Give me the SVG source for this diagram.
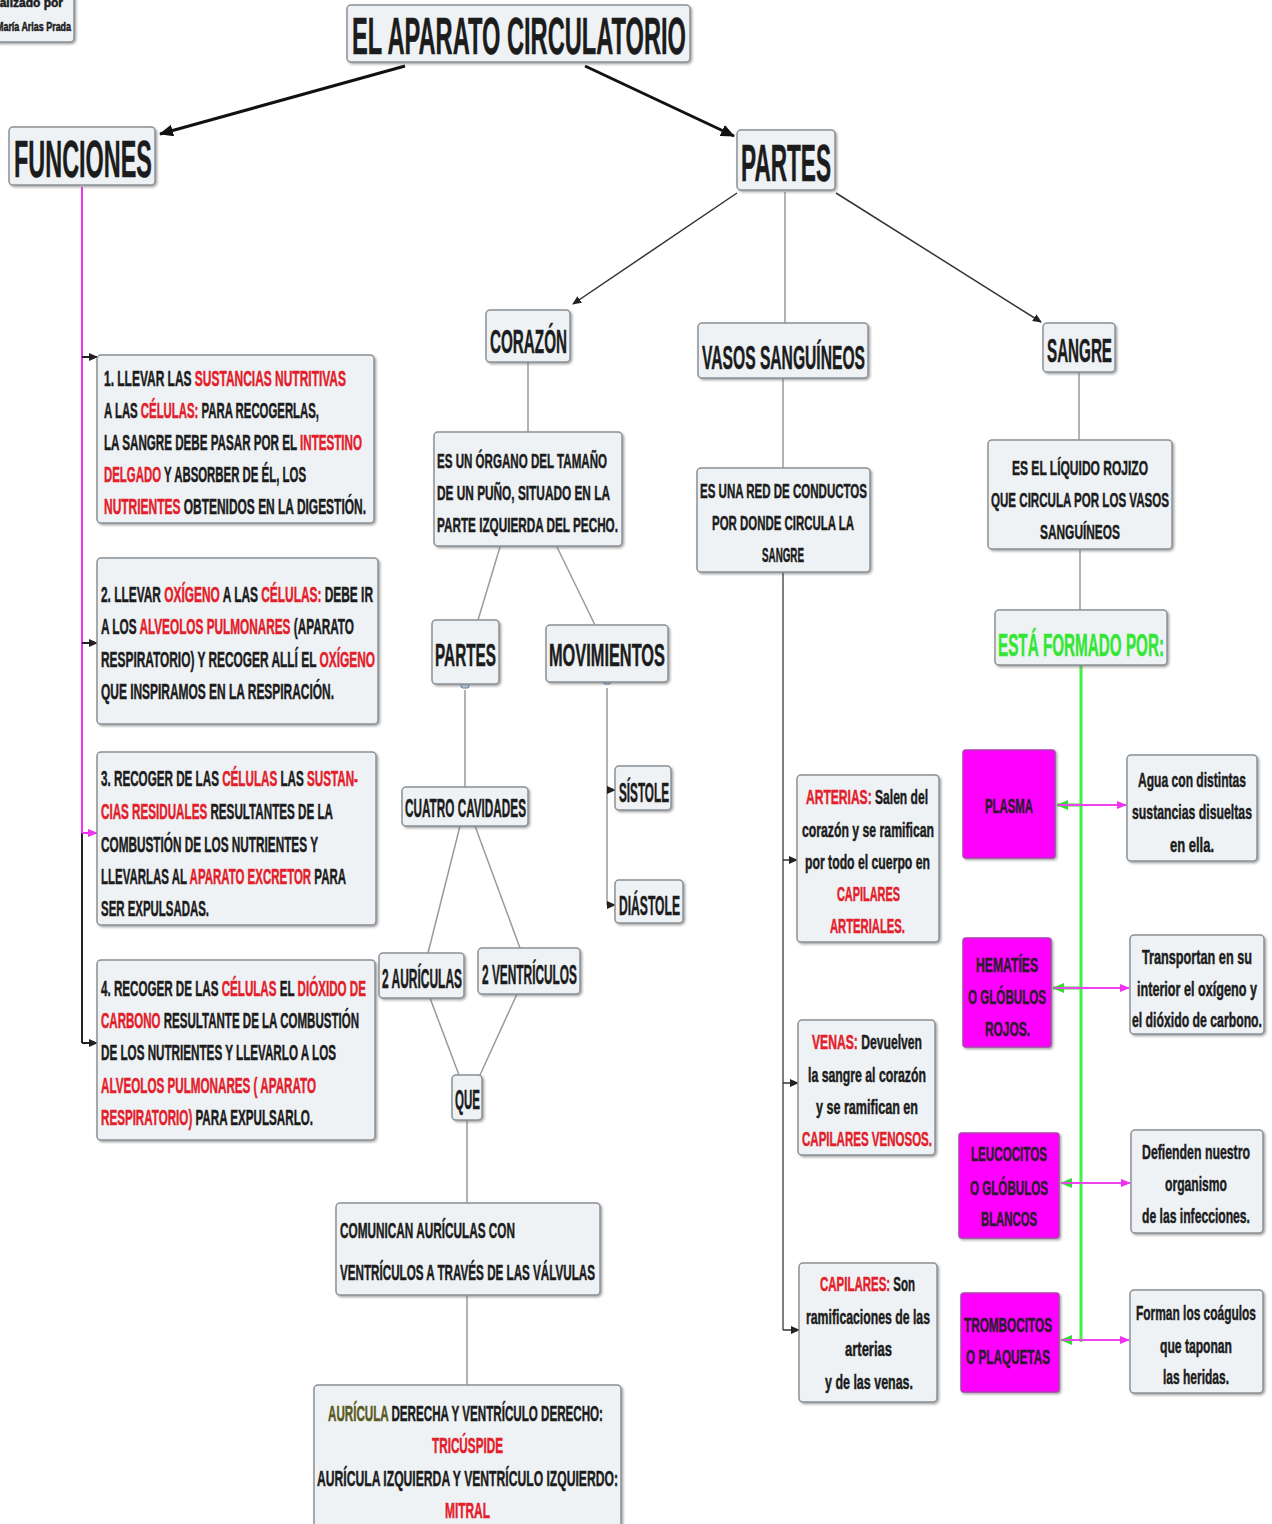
<svg xmlns="http://www.w3.org/2000/svg" width="1272" height="1524" viewBox="0 0 1272 1524">
<style>
.box{fill:#eef2f5;stroke:#8c9196;stroke-width:1.5;filter:url(#sh)}
.mag{fill:#ff00ff;stroke:#b23cb2;stroke-width:1.5;filter:url(#sh)}
.t{font-family:"Liberation Sans Narrow","Liberation Sans",Arial,sans-serif;font-weight:bold;fill:#1c1c1c;stroke:#1c1c1c;stroke-width:0.5}
.s20{font-size:21px}
.f22{font-size:22px}
.r{fill:#e3202a;stroke:#e3202a}
.ol{fill:#5a5a22;stroke:#5a5a22}
.gr{fill:#33e633;stroke:#33e633}
.mt{fill:#2e1a30;stroke:#2e1a30}
.ln{stroke:#9a9a9a;stroke-width:1.5;fill:none}
.dk{stroke:#333;stroke-width:1.5;fill:none}
</style>
<defs>
<filter id="sh" x="-10%" y="-10%" width="130%" height="130%">
<feDropShadow dx="1.5" dy="1.5" stdDeviation="1" flood-color="#666" flood-opacity="0.6"/>
</filter>
<marker id="ab" markerWidth="14" markerHeight="12" refX="13" refY="6" orient="auto" markerUnits="userSpaceOnUse">
<path d="M0,0 L14,6 L0,12 z" fill="#111"/>
</marker>
<marker id="as" markerWidth="9" markerHeight="8" refX="8" refY="4" orient="auto" markerUnits="userSpaceOnUse">
<path d="M0,0 L9,4 L0,8 z" fill="#222"/>
</marker>
<marker id="am" markerWidth="10" markerHeight="8" refX="9" refY="4" orient="auto" markerUnits="userSpaceOnUse">
<path d="M0,0 L10,4 L0,8 z" fill="#ee33ee"/>
</marker>
<marker id="ag" markerWidth="12" markerHeight="10" refX="11" refY="5" orient="auto" markerUnits="userSpaceOnUse">
<path d="M0,0 L12,5 L0,10 z" fill="#33dd33"/>
</marker>
</defs>
<rect width="1272" height="1524" fill="#ffffff"/>

<g id="connectors">
<line x1="405" y1="66" x2="160" y2="134" stroke="#111" stroke-width="3" marker-end="url(#ab)"/>
<line x1="585" y1="66" x2="734" y2="136" stroke="#111" stroke-width="3" marker-end="url(#ab)"/>
<line x1="737" y1="193" x2="573" y2="304" class="dk" marker-end="url(#as)"/>
<line x1="785" y1="192" x2="785" y2="323" class="ln"/>
<line x1="836" y1="193" x2="1041" y2="322" class="dk" marker-end="url(#as)"/>
<line x1="82" y1="187" x2="82" y2="1043" stroke="#222" stroke-width="2"/>
<line x1="82" y1="187" x2="82" y2="833" stroke="#ee33ee" stroke-width="2"/>
<line x1="82" y1="357" x2="97" y2="357" stroke="#222" stroke-width="2" marker-end="url(#as)"/>
<line x1="82" y1="643" x2="97" y2="643" stroke="#222" stroke-width="2" marker-end="url(#as)"/>
<line x1="82" y1="833" x2="97" y2="833" stroke="#ee33ee" stroke-width="2" marker-end="url(#am)"/>
<line x1="82" y1="1043" x2="97" y2="1043" stroke="#222" stroke-width="2" marker-end="url(#as)"/>
<line x1="528" y1="362" x2="528" y2="432" class="ln"/>
<line x1="500" y1="547" x2="478" y2="620" class="ln"/>
<line x1="557" y1="547" x2="595" y2="625" class="ln"/>
<line x1="465" y1="690" x2="465" y2="787" class="ln"/>
<line x1="460" y1="826" x2="428" y2="953" class="ln"/>
<line x1="475" y1="826" x2="520" y2="948" class="ln"/>
<line x1="430" y1="998" x2="459" y2="1075" class="ln"/>
<line x1="517" y1="994" x2="480" y2="1075" class="ln"/>
<line x1="467" y1="1120" x2="467" y2="1203" class="ln"/>
<line x1="467" y1="1295" x2="467" y2="1385" class="ln"/>
<line x1="607" y1="688" x2="607" y2="905" class="ln"/>
<line x1="607" y1="790" x2="615" y2="790" class="dk" marker-end="url(#as)"/>
<line x1="607" y1="905" x2="615" y2="905" class="dk" marker-end="url(#as)"/>
<rect x="461" y="679" width="8" height="9" rx="2" fill="#cfe0f0" stroke="#4a78a8" stroke-width="1"/>
<rect x="603" y="675" width="8" height="9" rx="2" fill="#cfe0f0" stroke="#4a78a8" stroke-width="1"/>
<line x1="783" y1="378" x2="783" y2="468" class="ln"/>
<line x1="783" y1="572" x2="783" y2="1330" stroke="#555" stroke-width="1.5"/>
<line x1="783" y1="860" x2="797" y2="860" class="dk" marker-end="url(#as)"/>
<line x1="783" y1="1083" x2="798" y2="1083" class="dk" marker-end="url(#as)"/>
<line x1="783" y1="1330" x2="799" y2="1330" class="dk" marker-end="url(#as)"/>
<line x1="1079" y1="372" x2="1079" y2="440" class="ln"/>
<line x1="1080" y1="549" x2="1080" y2="610" class="ln"/>
<line x1="1081" y1="665" x2="1081" y2="1342" stroke="#44ee44" stroke-width="3"/>
<line x1="1081" y1="805" x2="1057" y2="805" stroke="#33dd33" stroke-width="3" marker-end="url(#ag)"/>
<line x1="1081" y1="988" x2="1053" y2="988" stroke="#33dd33" stroke-width="3" marker-end="url(#ag)"/>
<line x1="1081" y1="1183" x2="1061" y2="1183" stroke="#33dd33" stroke-width="1.5" marker-end="url(#ag)"/>
<line x1="1081" y1="1340" x2="1061" y2="1340" stroke="#33dd33" stroke-width="1.5" marker-end="url(#ag)"/>
<line x1="1058" y1="805" x2="1126" y2="805" stroke="#ee44ee" stroke-width="2" marker-end="url(#am)"/>
<line x1="1054" y1="988" x2="1129" y2="988" stroke="#ee44ee" stroke-width="2" marker-end="url(#am)"/>
<line x1="1062" y1="1183" x2="1130" y2="1183" stroke="#ee44ee" stroke-width="2" marker-end="url(#am)"/>
<line x1="1062" y1="1340" x2="1129" y2="1340" stroke="#ee44ee" stroke-width="2" marker-end="url(#am)"/>
</g>

<g id="autor">
<rect x="-6" y="-6" width="80" height="48" rx="4" class="box"/>
<text class="t" font-size="12" x="63" y="7" text-anchor="end">realizado por</text>
<text class="t" font-size="12" x="-4" y="31" textLength="75" lengthAdjust="spacingAndGlyphs">María Arias Prada</text>
</g>

<g id="titulo">
<rect x="347" y="5" width="343" height="57" rx="4" class="box"/>
<text class="t" font-size="51" x="352" y="54" textLength="334" lengthAdjust="spacingAndGlyphs">EL APARATO CIRCULATORIO</text>
</g>

<g id="funciones">
<rect x="9" y="127" width="146" height="58" rx="4" class="box"/>
<text class="t" font-size="51" x="14" y="177" textLength="138" lengthAdjust="spacingAndGlyphs">FUNCIONES</text>
</g>

<g id="partes">
<rect x="737" y="130" width="98" height="60" rx="4" class="box"/>
<text class="t" font-size="51" x="741" y="181" textLength="90" lengthAdjust="spacingAndGlyphs">PARTES</text>
</g>

<g id="funcion1">
<rect x="97" y="355" width="277" height="168" rx="4" class="box"/>
<text class="t f22" x="104" y="386" textLength="242" lengthAdjust="spacingAndGlyphs">1. LLEVAR LAS <tspan class="r">SUSTANCIAS NUTRITIVAS</tspan></text>
<text class="t f22" x="104" y="418" textLength="215" lengthAdjust="spacingAndGlyphs">A LAS <tspan class="r">CÉLULAS:</tspan> PARA RECOGERLAS,</text>
<text class="t f22" x="104" y="450" textLength="258" lengthAdjust="spacingAndGlyphs">LA SANGRE DEBE PASAR POR EL <tspan class="r">INTESTINO</tspan></text>
<text class="t f22" x="104" y="482" textLength="202" lengthAdjust="spacingAndGlyphs"><tspan class="r">DELGADO</tspan> Y ABSORBER DE ÉL, LOS</text>
<text class="t f22" x="104" y="514" textLength="262" lengthAdjust="spacingAndGlyphs"><tspan class="r">NUTRIENTES</tspan> OBTENIDOS EN LA DIGESTIÓN.</text>
</g>

<g id="funcion2">
<rect x="97" y="558" width="281" height="166" rx="4" class="box"/>
<text class="t f22" x="101" y="602" textLength="272" lengthAdjust="spacingAndGlyphs">2. LLEVAR <tspan class="r">OXÍGENO</tspan> A LAS <tspan class="r">CÉLULAS:</tspan> DEBE IR</text>
<text class="t f22" x="101" y="634" textLength="253" lengthAdjust="spacingAndGlyphs">A LOS <tspan class="r">ALVEOLOS PULMONARES</tspan> (APARATO</text>
<text class="t f22" x="101" y="667" textLength="274" lengthAdjust="spacingAndGlyphs">RESPIRATORIO) Y RECOGER ALLÍ EL <tspan class="r">OXÍGENO</tspan></text>
<text class="t f22" x="101" y="699" textLength="233" lengthAdjust="spacingAndGlyphs">QUE INSPIRAMOS EN LA RESPIRACIÓN.</text>
</g>

<g id="funcion3">
<rect x="97" y="752" width="279" height="173" rx="4" class="box"/>
<text class="t f22" x="101" y="786" textLength="257" lengthAdjust="spacingAndGlyphs">3. RECOGER  DE LAS <tspan class="r">CÉLULAS</tspan> LAS <tspan class="r">SUSTAN-</tspan></text>
<text class="t f22" x="101" y="819" textLength="232" lengthAdjust="spacingAndGlyphs"><tspan class="r">CIAS RESIDUALES</tspan> RESULTANTES DE LA</text>
<text class="t f22" x="101" y="852" textLength="217" lengthAdjust="spacingAndGlyphs">COMBUSTIÓN DE LOS NUTRIENTES Y</text>
<text class="t f22" x="101" y="884" textLength="245" lengthAdjust="spacingAndGlyphs">LLEVARLAS AL <tspan class="r">APARATO EXCRETOR</tspan> PARA</text>
<text class="t f22" x="101" y="916" textLength="108" lengthAdjust="spacingAndGlyphs">SER EXPULSADAS.</text>
</g>

<g id="funcion4">
<rect x="97" y="960" width="278" height="180" rx="4" class="box"/>
<text class="t f22" x="101" y="996" textLength="265" lengthAdjust="spacingAndGlyphs">4. RECOGER DE LAS <tspan class="r">CÉLULAS</tspan> EL <tspan class="r">DIÓXIDO DE</tspan></text>
<text class="t f22" x="101" y="1028" textLength="258" lengthAdjust="spacingAndGlyphs"><tspan class="r">CARBONO</tspan> RESULTANTE DE LA COMBUSTIÓN</text>
<text class="t f22" x="101" y="1060" textLength="235" lengthAdjust="spacingAndGlyphs">DE LOS NUTRIENTES Y LLEVARLO A LOS</text>
<text class="t f22 r" x="101" y="1093" textLength="215" lengthAdjust="spacingAndGlyphs">ALVEOLOS PULMONARES ( APARATO</text>
<text class="t f22" x="101" y="1125" textLength="212" lengthAdjust="spacingAndGlyphs"><tspan class="r">RESPIRATORIO)</tspan> PARA EXPULSARLO.</text>
</g>

<g id="corazon">
<rect x="486" y="310" width="84" height="52" rx="4" class="box"/>
<text class="t" font-size="34" x="490" y="353" textLength="77" lengthAdjust="spacingAndGlyphs">CORAZÓN</text>
</g>
<g id="organo">
<rect x="434" y="432" width="188" height="114" rx="4" class="box"/>
<text class="t s20" x="437" y="468" textLength="170" lengthAdjust="spacingAndGlyphs">ES UN ÓRGANO DEL TAMAÑO</text>
<text class="t s20" x="437" y="500" textLength="173" lengthAdjust="spacingAndGlyphs">DE UN PUÑO, SITUADO EN LA</text>
<text class="t s20" x="437" y="532" textLength="181" lengthAdjust="spacingAndGlyphs">PARTE IZQUIERDA DEL PECHO.</text>
</g>
<g id="partes-corazon">
<rect x="432" y="620" width="67" height="64" rx="4" class="box"/>
<text class="t" font-size="32" x="435" y="666" textLength="61" lengthAdjust="spacingAndGlyphs">PARTES</text>
</g>
<g id="movimientos">
<rect x="546" y="625" width="122" height="57" rx="4" class="box"/>
<text class="t" font-size="32" x="549" y="666" textLength="116" lengthAdjust="spacingAndGlyphs">MOVIMIENTOS</text>
</g>
<g id="cavidades">
<rect x="402" y="787" width="126" height="39" rx="4" class="box"/>
<text class="t" font-size="25" x="405" y="817" textLength="121" lengthAdjust="spacingAndGlyphs">CUATRO CAVIDADES</text>
</g>
<g id="sistole">
<rect x="615" y="766" width="56" height="44" rx="4" class="box"/>
<text class="t" font-size="27" x="619" y="802" textLength="50" lengthAdjust="spacingAndGlyphs">SÍSTOLE</text>
</g>
<g id="diastole">
<rect x="615" y="880" width="68" height="43" rx="4" class="box"/>
<text class="t" font-size="27" x="619" y="915" textLength="61" lengthAdjust="spacingAndGlyphs">DIÁSTOLE</text>
</g>
<g id="auriculas">
<rect x="379" y="953" width="85" height="45" rx="4" class="box"/>
<text class="t" font-size="27" x="382" y="988" textLength="80" lengthAdjust="spacingAndGlyphs">2 AURÍCULAS</text>
</g>
<g id="ventriculos">
<rect x="478" y="948" width="102" height="46" rx="4" class="box"/>
<text class="t" font-size="27" x="482" y="984" textLength="95" lengthAdjust="spacingAndGlyphs">2 VENTRÍCULOS</text>
</g>
<g id="que">
<rect x="452" y="1075" width="30" height="45" rx="4" class="box"/>
<text class="t" font-size="27" x="455" y="1109" textLength="25" lengthAdjust="spacingAndGlyphs">QUE</text>
</g>
<g id="comunican">
<rect x="336" y="1203" width="264" height="92" rx="4" class="box"/>
<text class="t f22" x="340" y="1238" textLength="175" lengthAdjust="spacingAndGlyphs">COMUNICAN AURÍCULAS CON</text>
<text class="t f22" x="340" y="1280" textLength="255" lengthAdjust="spacingAndGlyphs">VENTRÍCULOS A TRAVÉS DE LAS VÁLVULAS</text>
</g>
<g id="valvulas">
<rect x="314" y="1385" width="307" height="150" rx="4" class="box"/>
<text class="t f22" x="328" y="1421" textLength="275" lengthAdjust="spacingAndGlyphs"><tspan class="ol">AURÍCULA</tspan> DERECHA Y VENTRÍCULO DERECHO:</text>
<text class="t f22 r" x="432" y="1453" textLength="71" lengthAdjust="spacingAndGlyphs">TRICÚSPIDE</text>
<text class="t f22" x="317" y="1486" textLength="301" lengthAdjust="spacingAndGlyphs">AURÍCULA IZQUIERDA Y VENTRÍCULO IZQUIERDO:</text>
<text class="t f22 r" x="445" y="1518" textLength="45" lengthAdjust="spacingAndGlyphs">MITRAL</text>
</g>

<g id="vasos">
<rect x="698" y="323" width="170" height="55" rx="4" class="box"/>
<text class="t" font-size="34" x="702" y="369" textLength="163" lengthAdjust="spacingAndGlyphs">VASOS SANGUÍNEOS</text>
</g>
<g id="red">
<rect x="697" y="468" width="173" height="104" rx="4" class="box"/>
<text class="t s20" x="700" y="498" textLength="167" lengthAdjust="spacingAndGlyphs">ES UNA RED DE CONDUCTOS</text>
<text class="t s20" x="712" y="530" textLength="142" lengthAdjust="spacingAndGlyphs">POR DONDE CIRCULA LA</text>
<text class="t s20" x="762" y="562" textLength="42" lengthAdjust="spacingAndGlyphs">SANGRE</text>
</g>
<g id="arterias">
<rect x="797" y="775" width="142" height="167" rx="4" class="box"/>
<text class="t s20" x="806" y="804" textLength="122" lengthAdjust="spacingAndGlyphs"><tspan class="r">ARTERIAS:</tspan> Salen del</text>
<text class="t s20" x="802" y="837" textLength="132" lengthAdjust="spacingAndGlyphs">corazón y se ramifican</text>
<text class="t s20" x="805" y="869" textLength="125" lengthAdjust="spacingAndGlyphs">por todo el cuerpo en</text>
<text class="t s20 r" x="837" y="901" textLength="63" lengthAdjust="spacingAndGlyphs">CAPILARES</text>
<text class="t s20 r" x="830" y="933" textLength="75" lengthAdjust="spacingAndGlyphs">ARTERIALES.</text>
</g>
<g id="venas">
<rect x="798" y="1020" width="137" height="135" rx="4" class="box"/>
<text class="t s20" x="812" y="1049" textLength="110" lengthAdjust="spacingAndGlyphs"><tspan class="r">VENAS:</tspan> Devuelven</text>
<text class="t s20" x="808" y="1082" textLength="118" lengthAdjust="spacingAndGlyphs">la sangre al corazón</text>
<text class="t s20" x="816" y="1114" textLength="102" lengthAdjust="spacingAndGlyphs">y se ramifican en</text>
<text class="t s20 r" x="802" y="1146" textLength="130" lengthAdjust="spacingAndGlyphs">CAPILARES VENOSOS.</text>
</g>
<g id="capilares">
<rect x="799" y="1263" width="138" height="139" rx="4" class="box"/>
<text class="t s20" x="820" y="1291" textLength="95" lengthAdjust="spacingAndGlyphs"><tspan class="r">CAPILARES:</tspan> Son</text>
<text class="t s20" x="806" y="1324" textLength="124" lengthAdjust="spacingAndGlyphs">ramificaciones de las</text>
<text class="t s20" x="845" y="1356" textLength="47" lengthAdjust="spacingAndGlyphs">arterias</text>
<text class="t s20" x="825" y="1389" textLength="88" lengthAdjust="spacingAndGlyphs">y de las venas.</text>
</g>

<g id="sangre">
<rect x="1043" y="323" width="72" height="49" rx="4" class="box"/>
<text class="t" font-size="34" x="1047" y="362" textLength="65" lengthAdjust="spacingAndGlyphs">SANGRE</text>
</g>
<g id="liquido">
<rect x="988" y="440" width="184" height="109" rx="4" class="box"/>
<text class="t s20" x="1012" y="475" textLength="136" lengthAdjust="spacingAndGlyphs">ES EL LÍQUIDO ROJIZO</text>
<text class="t s20" x="991" y="507" textLength="178" lengthAdjust="spacingAndGlyphs">QUE CIRCULA POR LOS VASOS</text>
<text class="t s20" x="1040" y="539" textLength="80" lengthAdjust="spacingAndGlyphs">SANGUÍNEOS</text>
</g>
<g id="formado">
<rect x="995" y="610" width="172" height="55" rx="4" class="box"/>
<text class="t gr" font-size="32" x="998" y="656" textLength="166" lengthAdjust="spacingAndGlyphs">ESTÁ FORMADO POR:</text>
</g>
<g id="plasma">
<rect x="963" y="750" width="92" height="108" rx="3" class="mag"/>
<text class="t s20 mt" x="985" y="813" textLength="48" lengthAdjust="spacingAndGlyphs">PLASMA</text>
</g>
<g id="hematies">
<rect x="963" y="938" width="88" height="109" rx="3" class="mag"/>
<text class="t s20 mt" x="976" y="972" textLength="62" lengthAdjust="spacingAndGlyphs">HEMATÍES</text>
<text class="t s20 mt" x="968" y="1004" textLength="78" lengthAdjust="spacingAndGlyphs">O GLÓBULOS</text>
<text class="t s20 mt" x="985" y="1036" textLength="45" lengthAdjust="spacingAndGlyphs">ROJOS.</text>
</g>
<g id="leucocitos">
<rect x="959" y="1133" width="100" height="105" rx="3" class="mag"/>
<text class="t s20 mt" x="971" y="1161" textLength="76" lengthAdjust="spacingAndGlyphs">LEUCOCITOS</text>
<text class="t s20 mt" x="970" y="1195" textLength="78" lengthAdjust="spacingAndGlyphs">O GLÓBULOS</text>
<text class="t s20 mt" x="981" y="1226" textLength="56" lengthAdjust="spacingAndGlyphs">BLANCOS</text>
</g>
<g id="trombocitos">
<rect x="961" y="1293" width="98" height="99" rx="3" class="mag"/>
<text class="t s20 mt" x="964" y="1332" textLength="88" lengthAdjust="spacingAndGlyphs">TROMBOCITOS</text>
<text class="t s20 mt" x="966" y="1364" textLength="84" lengthAdjust="spacingAndGlyphs">O PLAQUETAS</text>
</g>
<g id="agua">
<rect x="1127" y="755" width="130" height="106" rx="4" class="box"/>
<text class="t s20" x="1138" y="787" textLength="108" lengthAdjust="spacingAndGlyphs">Agua con distintas</text>
<text class="t s20" x="1132" y="819" textLength="120" lengthAdjust="spacingAndGlyphs">sustancias disueltas</text>
<text class="t s20" x="1170" y="852" textLength="44" lengthAdjust="spacingAndGlyphs">en ella.</text>
</g>
<g id="transportan">
<rect x="1130" y="935" width="134" height="99" rx="4" class="box"/>
<text class="t s20" x="1142" y="964" textLength="110" lengthAdjust="spacingAndGlyphs">Transportan en su</text>
<text class="t s20" x="1137" y="996" textLength="120" lengthAdjust="spacingAndGlyphs">interior el oxígeno y</text>
<text class="t s20" x="1132" y="1027" textLength="130" lengthAdjust="spacingAndGlyphs">el dióxido de carbono.</text>
</g>
<g id="defienden">
<rect x="1131" y="1130" width="132" height="103" rx="4" class="box"/>
<text class="t s20" x="1142" y="1159" textLength="108" lengthAdjust="spacingAndGlyphs">Defienden nuestro</text>
<text class="t s20" x="1165" y="1191" textLength="62" lengthAdjust="spacingAndGlyphs">organismo</text>
<text class="t s20" x="1142" y="1223" textLength="108" lengthAdjust="spacingAndGlyphs">de las infecciones.</text>
</g>
<g id="forman">
<rect x="1130" y="1290" width="133" height="103" rx="4" class="box"/>
<text class="t s20" x="1136" y="1320" textLength="120" lengthAdjust="spacingAndGlyphs">Forman los coágulos</text>
<text class="t s20" x="1160" y="1353" textLength="72" lengthAdjust="spacingAndGlyphs">que taponan</text>
<text class="t s20" x="1163" y="1384" textLength="66" lengthAdjust="spacingAndGlyphs">las heridas.</text>
</g>
</svg>
